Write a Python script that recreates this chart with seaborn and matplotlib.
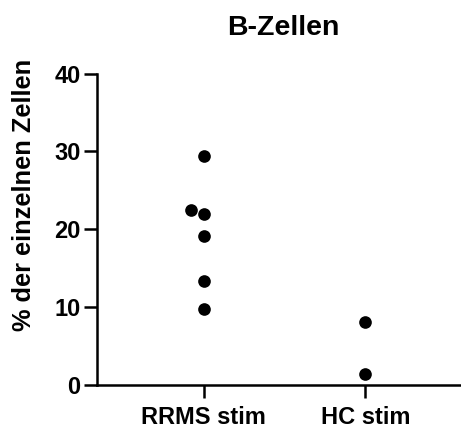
import matplotlib
matplotlib.use("Agg")
import matplotlib.pyplot as plt
import seaborn as sns
import pandas as pd

categories = ["RRMS stim", "HC stim"]
rrms_values = [29.4, 22.5, 21.9, 19.1, 13.4, 9.7]
hc_values = [8.1, 1.4]
y_ticks = [0, 10, 20, 30, 40]
title = "B-Zellen"
y_label = "% der einzelnen Zellen"

df = pd.DataFrame({
    "group": [categories[0]] * len(rrms_values) + [categories[1]] * len(hc_values),
    "value": rrms_values + hc_values,
})

sns.set_theme(style="ticks")
plt.rcParams['font.family'] = ['Liberation Sans', 'DejaVu Sans']
plt.rcParams['font.weight'] = 'bold'

fig = plt.figure(figsize=(4.61, 4.30), dpi=100)
fig.patch.set_facecolor("white")
ax = fig.add_axes([0.2098, 0.1053, 0.80, 0.7233])
sns.swarmplot(data=df, x="group", y="value", order=categories, color="black",
              size=9.1, ax=ax, linewidth=0)

ax.set_xlim(-0.6625, 1.62)
ax.set_ylim(0, 40)
ax.set_yticks(y_ticks)
ax.set_xlabel("")
ax.set_ylabel("")
for s in ["top", "right"]:
    ax.spines[s].set_visible(False)
for s in ["left", "bottom"]:
    ax.spines[s].set_linewidth(1.8)
    ax.spines[s].set_color("black")
    ax.spines[s].set_capstyle("projecting")
ax.tick_params(axis="both", length=9.6, width=1.8, color="black",
               labelsize=17, labelcolor="black")
ax.tick_params(axis="y", pad=2)
ax.tick_params(axis="x", pad=6)
for lab in ax.get_xticklabels() + ax.get_yticklabels():
    lab.set_fontweight("bold")

fig.text(0.615, 0.9186, title, ha="center", va="baseline",
         fontsize=20.5, fontweight="bold", color="black")
fig.text(0.052, 0.5465, y_label, ha="center", va="center", rotation=90,
         fontsize=18.3, fontweight="bold", color="black")

fig.savefig("out.png", dpi=100, facecolor="white")
